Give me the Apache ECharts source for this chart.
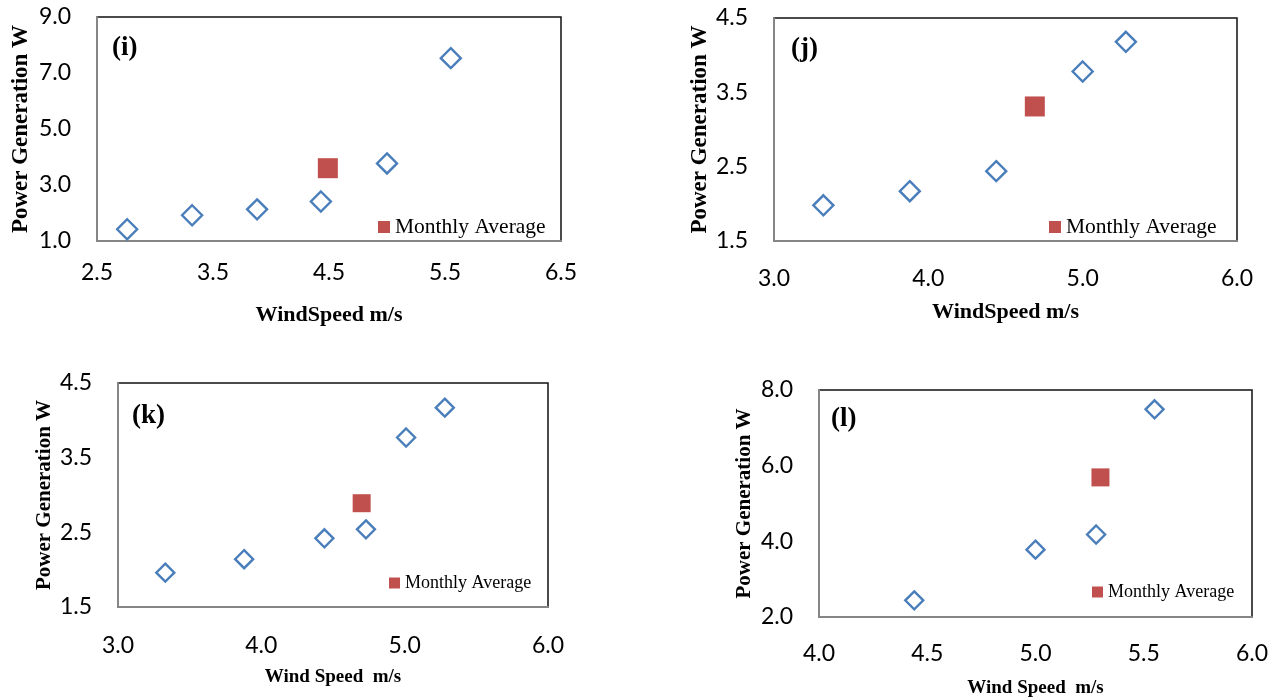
<!DOCTYPE html>
<html>
<head>
<meta charset="utf-8">
<script src="https://cdn.jsdelivr.net/npm/echarts@6/dist/echarts.min.js"></script>
<style>
  html, body { margin: 0; padding: 0; background: #fff; }
  #chart { width: 1282px; height: 700px; }
</style>
</head>
<body>
<div id="chart"></div>
<script>
// measured points, one pair of arrays per panel
const speedI = [2.76, 3.32, 3.88, 4.43, 5.0, 5.55];
const powerI = [1.42, 1.92, 2.13, 2.41, 3.77, 7.53];
const avgI = [4.49, 3.6];

const speedJ = [3.32, 3.88, 4.44, 5.0, 5.28];
const powerJ = [1.98, 2.17, 2.44, 3.78, 4.18];
const avgJ = [4.69, 3.31];

const speedK = [3.33, 3.88, 4.44, 4.73, 5.01, 5.28];
const powerK = [1.96, 2.14, 2.42, 2.54, 3.77, 4.17];
const avgK = [4.70, 2.89];

const speedL = [4.44, 5.0, 5.28, 5.55];
const powerL = [2.44, 3.78, 4.18, 7.49];
const avgL = [5.30, 5.69];

// axis ranges [min, max, step] and labels
const xRanges = [[2.5, 6.5, 1], [3, 6, 1], [3, 6, 1], [4, 6, 0.5]];
const yRanges = [[1, 9, 2], [1.5, 4.5, 1], [1.5, 4.5, 1], [2, 8, 2]];
const panelTags = ['(i)', '(j)', '(k)', '(l)'];
const xTitles = ['WindSpeed m/s', 'WindSpeed m/s', 'Wind Speed  m/s', 'Wind Speed  m/s'];
const yTitle = 'Power Generation W';
const avgName = 'Monthly Average';

const speeds = [speedI, speedJ, speedK, speedL];
const powers = [powerI, powerJ, powerK, powerL];
const avgs = [avgI, avgJ, avgK, avgL];

// layout of the four panels (px)
const layout = [
  { left: 97,  top: 17,  width: 464, height: 224, lblMargin: 20, xGap: 63, yGap: 64, xSize: 22, ySize: 23, tag: [112, 35], leg: [378, 216], legFont: 21.5, legBox: 12, mark: 20 },
  { left: 774, top: 18,  width: 463, height: 223, lblMargin: 26, xGap: 60, yGap: 60, xSize: 22, ySize: 23, tag: [791, 36], leg: [1049, 216], legFont: 21.5, legBox: 12, mark: 20 },
  { left: 118, top: 383, width: 430, height: 224, lblMargin: 27, xGap: 61, yGap: 63, xSize: 19, ySize: 21, tag: [132, 403], leg: [389, 574], legFont: 18, legBox: 11, mark: 18 },
  { left: 819, top: 390, width: 433, height: 227, lblMargin: 25, xGap: 62, yGap: 64, xSize: 19, ySize: 21, tag: [831, 406], leg: [1092, 583], legFont: 18, legBox: 11, mark: 18 }
];

const serif = '"Liberation Serif", "Times New Roman", serif';
const sans = 'Lato, "Open Sans", sans-serif';

const grid = [], xAxis = [], yAxis = [], series = [], title = [], legend = [];

layout.forEach((p, i) => {
  grid.push({
    left: p.left, top: p.top, width: p.width, height: p.height,
    show: true, borderColor: '#111', borderWidth: 1.5, backgroundColor: '#fff'
  });
  xAxis.push({
    type: 'value', gridIndex: i,
    min: xRanges[i][0], max: xRanges[i][1], interval: xRanges[i][2],
    name: xTitles[i], nameLocation: 'middle', nameGap: p.xGap,
    nameTextStyle: { fontFamily: serif, fontWeight: 'bold', fontSize: p.xSize, color: '#000' },
    axisLine: { show: true, onZero: false, lineStyle: { color: '#868686', width: 2 } },
    axisTick: { show: false },
    splitLine: { show: false },
    axisLabel: {
      margin: p.lblMargin, fontFamily: sans, fontSize: 23, color: '#000',
      formatter: v => v.toFixed(1)
    }
  });
  yAxis.push({
    type: 'value', gridIndex: i,
    min: yRanges[i][0], max: yRanges[i][1], interval: yRanges[i][2],
    name: yTitle, nameLocation: 'middle', nameGap: p.yGap,
    nameTextStyle: { fontFamily: serif, fontWeight: 'bold', fontSize: p.ySize, color: '#000' },
    axisLine: { show: true, onZero: false, lineStyle: { color: '#868686', width: 2 } },
    axisTick: { show: false },
    splitLine: { show: false },
    axisLabel: {
      margin: 26, fontFamily: sans, fontSize: 23, color: '#000',
      formatter: v => v.toFixed(1)
    }
  });
  series.push({
    name: 'Measured', type: 'scatter', xAxisIndex: i, yAxisIndex: i,
    symbol: 'diamond', symbolSize: p.mark,
    itemStyle: { color: '#fff', borderColor: '#4A7EBB', borderWidth: 2.4, opacity: 1 },
    data: speeds[i].map((x, k) => [x, powers[i][k]])
  });
  series.push({
    name: avgName, type: 'scatter', xAxisIndex: i, yAxisIndex: i,
    symbol: 'rect', symbolSize: p.mark,
    itemStyle: { color: '#C0504D', opacity: 1 },
    data: [avgs[i]]
  });
  title.push({
    text: panelTags[i], left: p.tag[0], top: p.tag[1], padding: 0,
    textStyle: { fontFamily: serif, fontWeight: 'bold', fontSize: 27, color: '#000' }
  });
  legend.push({
    data: [{ name: avgName, icon: 'rect' }],
    left: p.leg[0], top: p.leg[1], padding: 0,
    itemWidth: p.legBox, itemHeight: p.legBox,
    selectedMode: false,
    textStyle: { fontFamily: serif, fontSize: p.legFont, color: '#000' }
  });
});

const myChart = echarts.init(document.getElementById('chart'));
myChart.setOption({
  animation: false,
  title: title,
  legend: legend,
  grid: grid,
  xAxis: xAxis,
  yAxis: yAxis,
  series: series
});
</script>
</body>
</html>
